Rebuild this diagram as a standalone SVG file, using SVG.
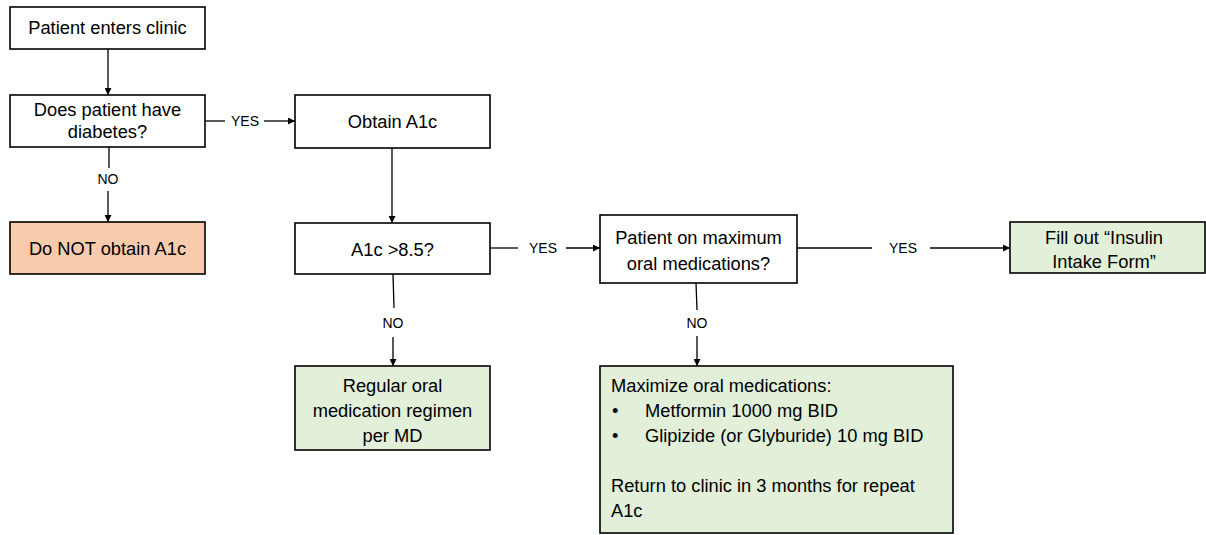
<svg xmlns="http://www.w3.org/2000/svg" width="1206" height="535" viewBox="0 0 1206 535">
  <defs>
    <marker id="arrow" viewBox="0 0 10 10" refX="10" refY="5" markerWidth="7" markerHeight="7" markerUnits="userSpaceOnUse" orient="auto">
      <path d="M0,0 L10,5 L0,10 z" fill="#000"/>
    </marker>
    <style>
      .box { fill: #fff; stroke: #000; stroke-width: 1.6; }
      .peach { fill: #f8cbad; }
      .green { fill: #e2efd9; }
      .t { font-family: "Liberation Sans", Arial, sans-serif; font-size: 18.3px; fill: #000; }
      .c { text-anchor: middle; }
      .lbl { font-family: "Liberation Sans", Arial, sans-serif; font-size: 14px; fill: #000; text-anchor: middle; }
      .ln { stroke: #000; stroke-width: 1.3; fill: none; }
      .ar { stroke: #000; stroke-width: 1.3; fill: none; marker-end: url(#arrow); }
    </style>
  </defs>
  <rect width="1206" height="535" fill="#fff"/>

  <g id="connectors">
    <!-- clinic entry to diabetes question -->
    <line class="ar" x1="108" y1="49" x2="108" y2="95"/>
    <!-- diabetes: NO -->
    <line class="ln" x1="109" y1="147" x2="109" y2="168"/>
    <text class="lbl" x="108" y="184">NO</text>
    <line class="ar" x1="108" y1="191" x2="108" y2="222"/>
    <!-- diabetes: YES -->
    <line class="ln" x1="205" y1="121" x2="225" y2="121"/>
    <text class="lbl" x="245" y="126">YES</text>
    <line class="ar" x1="264" y1="121" x2="295" y2="121"/>
    <!-- A1c to threshold question -->
    <line class="ar" x1="392" y1="148" x2="392" y2="223"/>
    <!-- threshold: YES -->
    <line class="ln" x1="490" y1="248" x2="518" y2="248"/>
    <text class="lbl" x="543" y="253">YES</text>
    <line class="ar" x1="566" y1="248" x2="600" y2="248"/>
    <!-- threshold: NO -->
    <line class="ln" x1="393" y1="274" x2="394" y2="308"/>
    <text class="lbl" x="393" y="328">NO</text>
    <line class="ar" x1="393" y1="337" x2="393" y2="366"/>
    <!-- maximum oral meds: YES -->
    <line class="ln" x1="797" y1="248" x2="872" y2="248"/>
    <text class="lbl" x="903" y="253">YES</text>
    <line class="ar" x1="930" y1="248" x2="1010" y2="248"/>
    <!-- maximum oral meds: NO -->
    <line class="ln" x1="696" y1="283" x2="697" y2="310"/>
    <text class="lbl" x="697" y="328">NO</text>
    <line class="ar" x1="697" y1="336" x2="697" y2="366"/>
  </g>

  <g id="enter-clinic">
    <rect class="box" x="10" y="7" width="195" height="42"/>
    <text class="t c" x="107.5" y="34">Patient enters clinic</text>
  </g>

  <g id="has-diabetes">
    <rect class="box" x="10" y="95" width="195" height="52"/>
    <text class="t c" x="107.5" y="116">Does patient have</text>
    <text class="t c" x="107.5" y="138">diabetes?</text>
  </g>

  <g id="no-a1c">
    <rect class="box peach" x="10" y="222" width="195" height="52"/>
    <text class="t c" x="107.5" y="255">Do NOT obtain A1c</text>
  </g>

  <g id="obtain-a1c">
    <rect class="box" x="295" y="95" width="195" height="53"/>
    <text class="t c" x="392.5" y="128">Obtain A1c</text>
  </g>

  <g id="a1c-threshold">
    <rect class="box" x="295" y="223" width="195" height="51"/>
    <text class="t c" x="392.5" y="256">A1c &gt;8.5?</text>
  </g>

  <g id="regular-regimen">
    <rect class="box green" x="295" y="366" width="195" height="84"/>
    <text class="t c" x="392.5" y="392">Regular oral</text>
    <text class="t c" x="392.5" y="417">medication regimen</text>
    <text class="t c" x="392.5" y="442">per MD</text>
  </g>

  <g id="max-oral-meds">
    <rect class="box" x="600" y="215" width="197" height="68"/>
    <text class="t c" x="698.5" y="244">Patient on maximum</text>
    <text class="t c" x="698.5" y="270">oral medications?</text>
  </g>

  <g id="insulin-form">
    <rect class="box green" x="1010" y="222" width="195" height="51"/>
    <text class="t c" x="1104" y="244">Fill out “Insulin</text>
    <text class="t c" x="1104" y="268">Intake Form”</text>
  </g>

  <g id="maximize-meds">
    <rect class="box green" x="600" y="366" width="353" height="167"/>
    <text class="t" x="611" y="392">Maximize oral medications:</text>
    <text class="t" x="612" y="417">•</text>
    <text class="t" x="645" y="417">Metformin 1000 mg BID</text>
    <text class="t" x="612" y="442">•</text>
    <text class="t" x="645" y="442">Glipizide (or Glyburide) 10 mg BID</text>
    <text class="t" x="611" y="492">Return to clinic in 3 months for repeat</text>
    <text class="t" x="611" y="517">A1c</text>
  </g>
</svg>
